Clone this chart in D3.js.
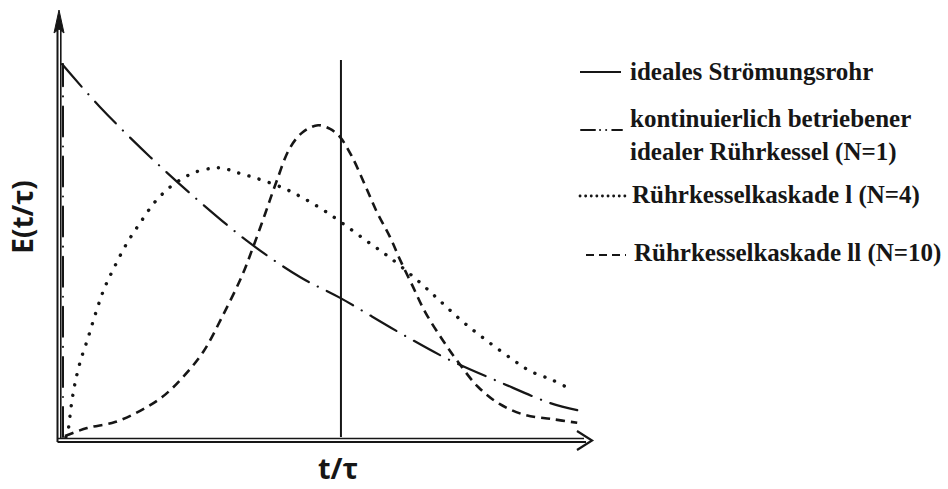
<!DOCTYPE html>
<html>
<head>
<meta charset="utf-8">
<script src="https://cdn.jsdelivr.net/npm/d3@7"></script>
<style>
  html, body { margin: 0; padding: 0; background: #fff; }
  svg { display: block; }
</style>
</head>
<body>
<svg id="chart" width="948" height="489"></svg>
<script>
// Verweilzeitverteilungen E(t/τ) idealer Reaktoren

// Dimensionslose Zeit t/τ und E(t/τ) – kontinuierlicher idealer Rührkessel (N=1)
const cstrT = [0, 0.136, 0.316, 0.495, 0.674, 0.853, 0.997, 1.212, 1.391, 1.570, 1.750, 1.847];
const cstrE = [1.000, 0.885, 0.751, 0.630, 0.520, 0.429, 0.373, 0.279, 0.206, 0.147, 0.091, 0.072];

// Rührkesselkaskade I (N=4)
const n4T = [0.014, 0.022, 0.029, 0.036, 0.047, 0.065, 0.093, 0.122, 0.151, 0.186, 0.233, 0.280, 0.333,
             0.387, 0.434, 0.477, 0.541, 0.577, 0.624, 0.696, 0.792, 0.864, 0.936, 1.015, 1.097, 1.172,
             1.273, 1.355, 1.434, 1.520, 1.613, 1.678, 1.757, 1.821];
const n4E = [0.000, 0.019, 0.059, 0.099, 0.145, 0.201, 0.265, 0.335, 0.397, 0.453, 0.520, 0.574, 0.630,
             0.670, 0.694, 0.710, 0.721, 0.721, 0.710, 0.694, 0.668, 0.641, 0.609, 0.568, 0.523, 0.483,
             0.421, 0.365, 0.311, 0.260, 0.209, 0.177, 0.153, 0.129];

// Rührkesselkaskade II (N=10)
const n10T = [0.011, 0.090, 0.190, 0.280, 0.359, 0.434, 0.506, 0.574, 0.645, 0.685, 0.728, 0.767, 0.817,
              0.864, 0.918, 0.961, 0.997, 1.040, 1.086, 1.129, 1.176, 1.212, 1.255, 1.302, 1.362, 1.420,
              1.492, 1.570, 1.660, 1.757, 1.847];
const n10E = [0.003, 0.024, 0.040, 0.070, 0.107, 0.161, 0.228, 0.322, 0.432, 0.509, 0.598, 0.681, 0.775,
              0.818, 0.836, 0.826, 0.804, 0.751, 0.676, 0.603, 0.536, 0.475, 0.408, 0.335, 0.263, 0.201,
              0.134, 0.088, 0.059, 0.048, 0.038];

// Ideales Strömungsrohr: Dirac-Impuls bei t/τ = 1
const pfrT = 1;
const pfrTop = 1.011;

const legendLabels = [
  ["ideales Strömungsrohr"],
  ["kontinuierlich betriebener", "idealer Rührkessel (N=1)"],
  ["Rührkesselkaskade l (N=4)"],
  ["Rührkesselkaskade ll (N=10)"]
];
const axisLabelX = "t/τ";
const axisLabelY = "E(t/τ)";

const ink = "#161616";
const svg = d3.select("#chart");

const x = d3.scaleLinear().domain([0, 1.9]).range([62, 592]);
const y = d3.scaleLinear().domain([0, 1.145]).range([437, 10]);

// ---- Achsen (Doppellinie mit Pfeil) ----
const xAxisG = svg.append("g").attr("transform", `translate(0,${y(0) + 1.5})`)
  .call(d3.axisBottom(x).tickValues([]).tickSizeOuter(0));
const yAxisG = svg.append("g").attr("transform", `translate(${x(0) - 1.2},0)`)
  .call(d3.axisLeft(y).tickValues([]).tickSizeOuter(0));
[xAxisG, yAxisG].forEach(g => g.select(".domain").attr("stroke", ink).attr("stroke-width", 1.6));
xAxisG.select(".domain").attr("d", `M${x(0) - 4},0H${x.range()[1] - 8}`);
yAxisG.select(".domain").attr("d", `M0,${y(0) + 1.5}V${y.range()[1] + 20}`);

// zweite Linie der Doppelachsen
svg.append("path")
  .attr("d", `M${x(0) - 4.5},${y(0) + 5}H${x.range()[1] - 6}`)
  .attr("stroke", ink).attr("stroke-width", 2).attr("fill", "none");
svg.append("path")
  .attr("d", `M${x(0) - 4.5},${y(0) + 5}V${y.range()[1] + 20}`)
  .attr("stroke", ink).attr("stroke-width", 2).attr("fill", "none");

// Pfeilspitzen
const xTip = x.range()[1], yTip = y.range()[1];
svg.append("path")
  .attr("d", `M${xTip - 15},${y(0) - 6}L${xTip},${y(0) + 3.5}L${xTip - 15},${y(0) + 13}`)
  .attr("stroke", ink).attr("stroke-width", 2.2).attr("fill", "none")
  .attr("stroke-linejoin", "miter");
svg.append("path")
  .attr("d", `M${x(0) - 3},${yTip}L${x(0) + 2},${yTip + 23}L${x(0) - 3},${yTip + 19}L${x(0) - 8},${yTip + 23}Z`)
  .attr("fill", ink).attr("stroke", ink).attr("stroke-width", 1);

// ---- Kurven ----
const line = d3.line()
  .x(d => x(d[0])).y(d => y(d[1]))
  .curve(d3.curveCatmullRom.alpha(0.5));

const dashDot = "30,10,0.1,10";
const dotted = "0.1,10.5";
const dashed = "9,6";

// Strömungsrohr (senkrechte Linie)
svg.append("path")
  .attr("d", line([[pfrT, 0], [pfrT, pfrTop]]))
  .attr("stroke", ink).attr("stroke-width", 2).attr("fill", "none");

// Rührkessel N=1: Sprung bei t=0, dann Abfall
svg.append("path")
  .attr("d", `M${x(0) + 1},${y(0)}V${y(cstrE[0])}`)
  .attr("stroke", ink).attr("stroke-width", 2).attr("fill", "none")
  .attr("stroke-dasharray", dashDot).attr("stroke-linecap", "round");
svg.append("path")
  .attr("d", line(cstrT.map((t, i) => [t, cstrE[i]])))
  .attr("stroke", ink).attr("stroke-width", 2.2).attr("fill", "none")
  .attr("stroke-dasharray", dashDot).attr("stroke-linecap", "round");

// Kaskade N=4
svg.append("path")
  .attr("d", line(n4T.map((t, i) => [t, n4E[i]])))
  .attr("stroke", ink).attr("stroke-width", 3.4).attr("fill", "none")
  .attr("stroke-dasharray", dotted).attr("stroke-linecap", "round");

// Kaskade N=10
svg.append("path")
  .attr("d", line(n10T.map((t, i) => [t, n10E[i]])))
  .attr("stroke", ink).attr("stroke-width", 2.6).attr("fill", "none")
  .attr("stroke-dasharray", dashed);

// ---- Achsenbeschriftung ----
const sansBold = "'Open Sans', 'DejaVu Sans', sans-serif";
svg.append("text")
  .attr("x", 338).attr("y", 479)
  .attr("text-anchor", "middle")
  .attr("font-family", sansBold).attr("font-weight", 700).attr("font-size", 29)
  .attr("fill", ink)
  .text(axisLabelX);
svg.append("text")
  .attr("transform", "translate(33,217) rotate(-90)")
  .attr("text-anchor", "middle")
  .attr("font-family", sansBold).attr("font-weight", 700).attr("font-size", 28)
  .attr("fill", ink)
  .text(axisLabelY);

// ---- Legende ----
const legend = svg.append("g")
  .attr("font-family", "'Liberation Serif', 'Times New Roman', serif")
  .attr("font-weight", 700).attr("font-size", 25).attr("fill", ink);

const legendRows = [
  { x0: 580, x1: 621, ys: 72, style: null, tx: 630, ty: [80] },
  { x0: 581, x1: 622, ys: 130, style: "14,5,0.1,6,0.1,6,10", tx: 630, ty: [127, 160] },
  { x0: 580, x1: 626, ys: 196, style: "0.1,5.5", tx: 632, ty: [203] },
  { x0: 586, x1: 626, ys: 255, style: "8,5", tx: 634, ty: [261] }
];
const widths = [2, 2, 2.8, 2.2];

legendRows.forEach((r, i) => {
  const p = legend.append("path")
    .attr("d", `M${r.x0},${r.ys}H${r.x1}`)
    .attr("stroke", ink).attr("stroke-width", widths[i]).attr("fill", "none");
  if (r.style) p.attr("stroke-dasharray", r.style).attr("stroke-linecap", i === 1 || i === 2 ? "round" : "butt");
  legendLabels[i].forEach((txt, j) => {
    legend.append("text").attr("x", r.tx).attr("y", r.ty[j]).text(txt);
  });
});
</script>
</body>
</html>
